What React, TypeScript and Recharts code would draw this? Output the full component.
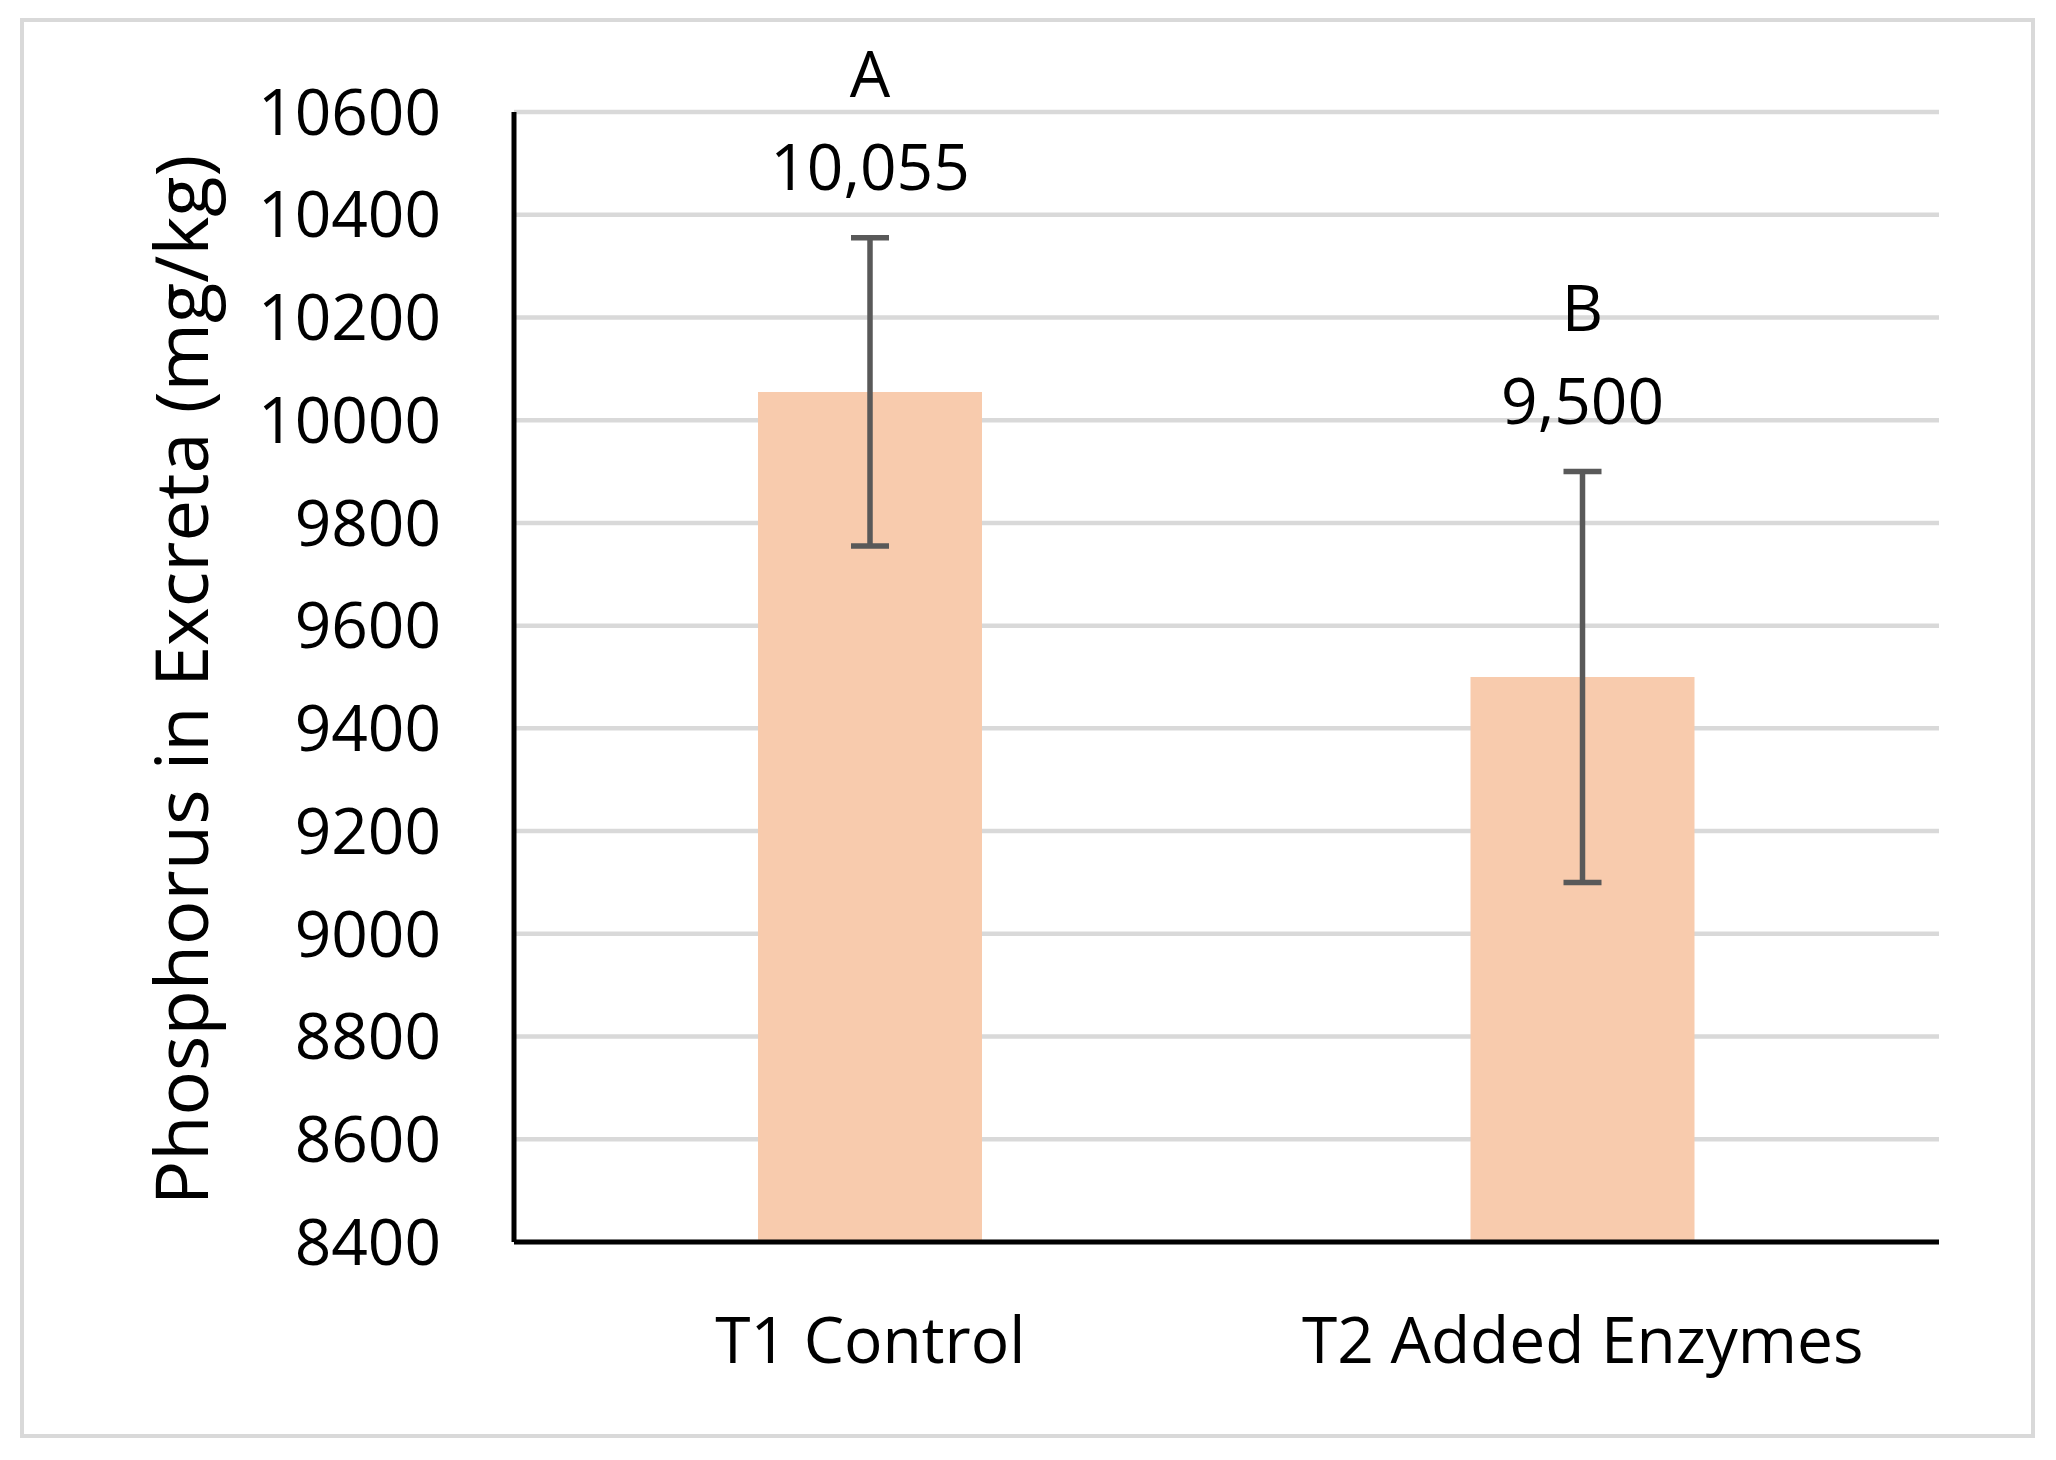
import React from "react";
import {
  BarChart,
  Bar,
  XAxis,
  YAxis,
  CartesianGrid,
  ErrorBar,
  LabelList,
} from "recharts";

const categories = ["T1 Control", "T2 Added Enzymes"];
const phosphorus = [10055, 9500];
const errors = [300, 400];
const letters = ["A", "B"];
const yTicks = [8400, 8600, 8800, 9000, 9200, 9400, 9600, 9800, 10000, 10200, 10400, 10600];

const Y_MIN = 8400;
const Y_MAX = 10600;

const data = categories.map((name, i) => ({
  name,
  value: phosphorus[i],
  err: errors[i],
  letter: letters[i],
}));

const fmt = (v: number) => v.toLocaleString("en-US");

// value + significance letter, placed above the error bar top
function BarLabel(props: any) {
  const vb = props.viewBox || props;
  const { x, y, width, height } = vb;
  const row = data[props.index];
  if (!row) return null;
  const perUnit = height / (row.value - Y_MIN);
  const errTop = y - row.err * perUnit;
  const cx = x + width / 2;
  const numBase = errTop - 48;
  return (
    <g>
      <text x={cx} y={numBase} textAnchor="middle" fontSize={64} fill="#000">
        {fmt(row.value)}
      </text>
      <text x={cx} y={numBase - 93} textAnchor="middle" fontSize={64} fill="#000">
        {row.letter}
      </text>
    </g>
  );
}

function YTitle(props: any) {
  const vb = props.viewBox;
  const x = vb.x - 106;
  const y = vb.y + vb.height / 2 + 3;
  return (
    <text
      x={x}
      y={y}
      transform={`rotate(-90, ${x}, ${y})`}
      textAnchor="middle"
      fontSize={74}
      fill="#000"
    >
      Phosphorus in Excreta (mg/kg)
    </text>
  );
}

export default function App() {
  return (
    <div
      style={{
        position: "relative",
        width: 2040,
        height: 1444,
        fontFamily: "'Open Sans', sans-serif",
        background: "#fff",
      }}
    >
      <div
        style={{
          position: "absolute",
          left: 12,
          top: 10,
          width: 2015,
          height: 1420,
          border: "4px solid #d9d9d9",
          boxSizing: "border-box",
        }}
      />
      <div style={{ position: "absolute", left: 0, top: 0 }}>
        <BarChart
          width={2040}
          height={1444}
          data={data}
          margin={{ top: 104, right: 109, bottom: 100, left: 306 }}
        >
          <CartesianGrid vertical={false} stroke="#d9d9d9" strokeWidth={4.5} />
          <XAxis
            dataKey="name"
            height={110}
            tickSize={0}
            tickMargin={76}
            tickLine={false}
            axisLine={{ stroke: "#000", strokeWidth: 5 }}
            tick={{ fill: "#000", fontSize: 64 }}
          />
          <YAxis
            domain={[Y_MIN, Y_MAX]}
            ticks={yTicks}
            interval={0}
            width={200}
            tickSize={0}
            tickMargin={73}
            tickLine={false}
            allowDataOverflow
            axisLine={{ stroke: "#000", strokeWidth: 5 }}
            tick={{ fill: "#000", fontSize: 64 }}
            label={<YTitle />}
          />
          <Bar dataKey="value" fill="#F8CBAD" barSize={224} isAnimationActive={false}>
            <ErrorBar
              dataKey="err"
              direction="y"
              width={19}
              stroke="#595959"
              strokeWidth={5.5}
            />
            <LabelList dataKey="value" content={<BarLabel />} />
          </Bar>
        </BarChart>
      </div>
    </div>
  );
}
